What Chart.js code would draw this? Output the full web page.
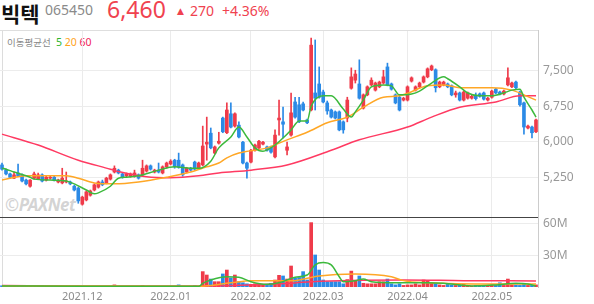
<!DOCTYPE html>
<html lang="ko">
<head>
<meta charset="UTF-8">
<script src="https://cdn.jsdelivr.net/npm/chart.js"></script>
<title>빅텍</title>
<style>
  body { margin:0; width:594px; height:304px; position:relative; overflow:hidden; background:#fff;
         font-family:'Noto Sans','Noto Sans CJK KR',sans-serif; }
  .h { position:absolute; white-space:nowrap; line-height:1; }
  #frame { position:absolute; left:2px; top:30px; width:536px; height:257px; box-sizing:border-box;
           border-left:1px solid #dcdcdc; }
  #mark { position:absolute; left:5px; top:193px; font:bold italic 17px 'Noto Sans',sans-serif;
          color:rgba(175,175,175,0.55); letter-spacing:-0.5px; }
  #ma { position:absolute; left:7px; top:35px; font-size:9.5px; color:#888; font-family:'Noto Sans CJK KR',sans-serif; }
  #ma b { font-weight:normal; font-family:'Noto Sans',sans-serif; font-size:10.5px; }
  canvas { position:absolute; left:0; top:0; }
</style>
</head>
<body>
<div id="frame"></div>
<div id="mark">©PAXNet</div>
<span class="h" style="left:1px;top:-2px;font:bold 21px 'Noto Sans CJK KR',sans-serif;color:#111">빅텍</span>
<span class="h" style="left:45px;top:3px;font-size:14px;color:#8a8a8a">065450</span>
<span class="h" style="left:107px;top:-2px;font-size:23px;color:#f0424f">6,460</span>
<span class="h" style="left:177px;top:6px;font:9px 'DejaVu Sans',sans-serif;color:#f0424f">▲</span>
<span class="h" style="left:190px;top:4px;font-size:14px;color:#f0424f">270</span>
<span class="h" style="left:222px;top:4px;font-size:14px;color:#f0424f">+4.36%</span>
<div id="ma">이동평균선 &nbsp;<b style="color:#2fb52f">5</b> <b style="color:#ffa31a">20</b> <b style="color:#f0245a">60</b></div>
<canvas id="chart" width="594" height="304"></canvas>
<script>
// trading days, Nov 2021 - May 2022
const months = ['2021.11', '2021.12', '2022.01', '2022.02', '2022.03', '2022.04', '2022.05'];
const tradingDays = [
  [3,4,5,8,9,10,11,12,15,16,17,18,19,22,23,24,25,26,29,30],
  [1,2,3,6,7,8,9,10,13,14,15,16,17,20,21,22,23,24,27,28,29,30],
  [3,4,5,6,7,10,11,12,13,14,17,18,19,20,21,24,25,26,27,28],
  [3,4,7,8,9,10,11,14,15,16,17,18,21,22,23,24,25,28],
  [2,3,4,7,8,10,11,14,15,16,17,18,21,22,23,24,25,28,29,30,31],
  [1,4,5,6,7,8,11,12,13,14,15,18,19,20,21,22,25,26,27,28,29],
  [2,3,4,6,9,10,11,12,13,16,17,18]
];

const open = [
  5510,5410,5320,5230,5340,5300,5190,5060,5230,5210,
  5300,5190,5230,5250,5150,5130,5150,5150,5060,5020,
  4680,4770,4870,4980,5040,5150,5130,5210,5360,5400,
  5320,5280,5270,5270,5300,5300,5380,5490,5360,5400,
  5340,5470,5530,5610,5610,5510,5360,5440,5570,5440,
  5510,5950,6180,5760,5970,6500,6190,6590,6330,6350,
  5990,5550,5570,5820,5870,5950,5890,5890,5680,6460,
  6420,5820,6140,6840,6780,6800,6460,6670,7030,7220,
  7050,6820,6670,6630,6630,6420,6500,7130,7300,7220,
  6710,6990,7200,7090,7160,7240,7580,7220,6990,6940,
  6880,6880,7280,7090,7160,7260,7370,7520,7520,7160,
  7200,7220,7180,6990,7030,6880,6920,6920,6960,7010,
  7030,6880,6940,7110,7050,7010,7200,7160,7260,7050,
  6820,6290,6310,6210
];
const high = [
  5550,5430,5340,5360,5530,5320,5210,5200,5360,5340,
  5320,5280,5280,5270,5210,5440,5360,5170,5080,5040,
  4850,4960,4980,5110,5170,5190,5250,5320,5490,5420,
  5340,5340,5340,5400,5320,5610,5510,5510,5420,5550,
  5490,5570,5620,5630,5760,5530,5460,5460,5590,5570,
  6330,6520,6290,5910,6200,6520,6820,6820,6610,6420,
  6010,5570,5840,5950,6030,6010,5910,5910,6250,6880,
  6730,5990,7030,6940,6940,6840,6480,8190,8150,7580,
  7090,6860,6690,6650,6650,6440,6940,7560,7510,7730,
  7010,7180,7350,7260,7280,7510,7660,7240,7010,6960,
  6940,7180,7370,7180,7260,7390,7560,7620,7540,7280,
  7280,7240,7200,7070,7050,7070,7050,6980,7030,7030,
  7050,6940,7090,7130,7070,7090,7560,7260,7280,7070,
  6840,6350,6330,6480
];
const low = [
  5400,5300,5230,5220,5260,5150,5090,5040,5210,5200,
  5150,5170,5210,5170,5130,5110,5130,5090,4960,4700,
  4660,4750,4850,4960,5020,5070,5110,5190,5340,5320,
  5230,5260,5250,5250,5210,5280,5360,5400,5340,5340,
  5320,5440,5510,5440,5440,5270,5340,5380,5400,5420,
  5490,5610,5850,5740,5950,6190,6170,6290,6310,6080,
  5530,5230,5550,5800,5850,5930,5800,5760,5660,6140,
  6080,5720,6120,6500,6400,6650,6380,6650,6670,6920,
  6820,6580,6500,6480,6230,6180,6420,7110,7240,6900,
  6690,6970,7180,7070,7140,7220,7180,7090,6800,6650,
  6860,6860,7260,7070,7140,7240,7350,7500,7050,7140,
  7180,7140,6970,6940,6860,6860,6900,6900,6880,6940,
  6880,6860,6920,7010,6990,6990,7180,7140,7110,6750,
  6160,6270,6080,6190
];
const close = [
  5420,5320,5250,5300,5280,5170,5110,5190,5320,5300,
  5170,5250,5250,5190,5190,5230,5170,5110,4980,4750,
  4830,4940,4960,5090,5150,5090,5230,5300,5440,5340,
  5250,5320,5320,5340,5230,5440,5490,5420,5400,5360,
  5470,5550,5590,5470,5460,5300,5440,5400,5420,5550,
  5910,5990,5870,5890,6010,6210,6670,6310,6590,6100,
  5550,5440,5820,5930,6010,5990,5820,5780,6140,6500,
  6370,5890,6610,6520,6420,6670,6400,8040,6920,6940,
  6840,6650,6520,6500,6250,6250,6880,7370,7430,6920,
  6990,7160,7300,7240,7260,7370,7200,7110,6820,6670,
  6920,7160,7350,7160,7240,7370,7540,7600,7140,7260,
  7260,7160,6990,7030,6880,7050,7030,6960,6910,6960,
  6900,6920,7070,7030,7010,7070,7350,7240,7140,6780,
  6310,6330,6190,6460
];
// volume, millions of shares
const volume = [
  1.2,1.0,0.9,1.1,1.3,1.0,0.9,1.0,1.1,0.9,
  1.0,0.8,0.8,0.9,0.8,1.1,0.9,0.8,1.0,1.2,
  0.6,0.5,0.5,0.4,0.5,0.4,0.5,0.5,2.0,0.5,
  0.4,0.4,0.5,0.6,0.4,1.6,0.6,0.5,0.4,0.4,
  0.5,0.5,0.4,0.6,2.0,0.6,0.5,0.4,1.5,0.6,
  14.5,11.3,7.5,5,5,12.3,16,8.5,11.3,5,
  4,3,2.5,3,2,2,2,3.5,6.6,11,
  10.4,7.5,19.8,8.5,9,14.5,6.6,60.7,30.2,16,
  6.6,5,5,5,5,3,7,15,5.7,10.4,
  3.5,3,3,3,5,5,7.5,3,2,3,
  1.5,2,2,3,2,6.6,5.7,3.5,3.5,2,
  1.5,2.5,2,1.5,2,2.5,1.5,1,1.5,1.5,
  1,1.5,2,1.5,4,1.5,7.5,2,2,1.5,
  3.5,1.5,1.5,2
];

// moving averages: [day index, value]
const ma5 = [[0,5440],[1,5420],[3,5360],[7,5250],[8,5210],[12,5190],[16,5170],[18,5110],[21,4980],[23,4900],
  [24,4920],[27,5060],[29,5230],[31,5250],[34,5280],[39,5400],[43,5470],[47,5440],[49,5440],[52,5590],
  [54,5870],[57,6100],[59,6310],[61,6100],[63,5870],[65,5800],[68,5930],[70,6080],[72,6250],[74,6440],
  [76,6440],[77,6750],[80,6970],[82,6970],[85,6690],[87,6520],[88,6630],[90,6880],[92,7160],[95,7200],
  [97,7180],[99,6990],[102,7010],[104,7070],[107,7240],[110,7370],[111,7330],[114,7160],[116,7030],[119,6970],
  [122,6970],[125,7030],[127,7090],[129,7110],[130,6940],[132,6670],[133,6520]];
const ma20 = [[0,5190],[6,5280],[16,5280],[19,5230],[23,5130],[28,5110],[34,5150],[41,5250],[47,5360],[51,5470],
  [54,5550],[56,5660],[59,5760],[66,5870],[71,6040],[76,6200],[81,6400],[86,6520],[90,6730],[95,6940],
  [99,6970],[106,7180],[110,7200],[114,7140],[122,7140],[127,7090],[130,6990],[133,6880]];
const ma60 = [[0,6160],[9,5930],[19,5610],[27,5420],[29,5370],[36,5260],[42,5240],[49,5280],[54,5340],[62,5400],
  [71,5510],[82,5820],[89,6040],[101,6310],[107,6520],[114,6730],[123,6840],[129,6970],[133,6970]];
const volMa5 = [[0,1.0],[20,0.8],[49,0.6],[50,3.5],[52,6.6],[56,9.7],[59,9.2],[62,5],[66,2.5],[69,4],
  [73,9.2],[76,11.3],[78,20.8],[80,23],[82,20.8],[84,9.7],[85,5],[88,6],[90,7.5],[92,5],
  [98,4],[106,4],[110,3.5],[117,1],[123,2],[128,3.5],[131,2.8],[133,1]];
const volMa20 = [[0,1.0],[49,0.8],[57,4],[62,6],[73,6],[74,6.6],[79,10.4],[88,12.3],[97,9.7],[100,6],
  [106,4],[123,2.8],[133,2.8]];
const volMa60 = [[0,1.4],[20,1.0],[49,0.9],[62,2],[73,3.8],[77,5],[100,6.6],[115,6],[133,5.7]];

const priceTicks = [5250, 6000, 6750, 7500];
const volTicks = [30, 60];
const priceMin = 4410, priceMax = 8360, volMax = 66;

const UP = '#ef3b4a', DOWN = '#2b8ae6';
const dates = [];
months.forEach((m, i) => tradingDays[i].forEach(d => dates.push(m + '.' + String(d).padStart(2, '0'))));

const candleColor = ctx => close[ctx.dataIndex] >= open[ctx.dataIndex] ? UP : DOWN;
// x given as the date label so the category scale places each point on its day
const pts = arr => arr.map(([i, v]) => ({ x: dates[i], y: v }));
const maLine = (data, color, axis) => ({
  type: 'line', data: pts(data), yAxisID: axis, borderColor: color, borderWidth: 1.5,
  pointRadius: 0, cubicInterpolationMode: 'monotone', order: 0
});

new Chart(document.getElementById('chart'), {
  data: {
    labels: dates,
    datasets: [
      maLine(ma5, '#3cb93c', 'y'),
      maLine(ma20, '#ffa726', 'y'),
      maLine(ma60, '#ff3a62', 'y'),
      maLine(volMa5, '#3cb93c', 'yv'),
      maLine(volMa20, '#ffa726', 'yv'),
      maLine(volMa60, '#ff3a62', 'yv'),
      { type: 'bar', data: dates.map((d, i) => [low[i], high[i]]), yAxisID: 'y',
        backgroundColor: candleColor, barThickness: 1, grouped: false, order: 3 },
      { type: 'bar', data: dates.map((d, i) => [open[i], close[i]]), yAxisID: 'y',
        backgroundColor: candleColor, barThickness: 3, minBarLength: 1, grouped: false, order: 2 },
      { type: 'bar', data: volume, yAxisID: 'yv',
        backgroundColor: candleColor, barThickness: 3, grouped: false, order: 2 }
    ]
  },
  options: {
    responsive: false,
    animation: false,
    layout: { padding: { top: 30, left: 0, right: 0, bottom: 0 } },
    plugins: { legend: { display: false }, tooltip: { enabled: false } },
    scales: {
      x: {
        offset: true,
        grid: { offset: false, color: '#ebebeb', drawTicks: false },
        border: { display: false },
        ticks: {
          autoSkip: false, maxRotation: 0, padding: 3, color: '#8c8c8c',
          font: { family: 'Noto Sans', size: 11 },
          callback: v => dates[v].slice(0, 7)
        },
        afterBuildTicks: s => {
          s.ticks = s.ticks.filter(t => t.value > 0 && dates[t.value].slice(0, 7) !== dates[t.value - 1].slice(0, 7));
        },
        afterFit: s => { s.height = 17; }
      },
      y: {
        position: 'right', stack: 'main', stackWeight: 187,
        min: priceMin, max: priceMax,
        grid: { drawTicks: false, color: c => c.tick && c.tick.value === priceMax ? '#dedede' : '#ececec' },
        border: { color: '#cccccc' },
        ticks: {
          autoSkip: false, padding: 5, color: '#999',
          font: { family: 'Noto Sans', size: 12 },
          callback: v => v === priceMax ? '' : v.toLocaleString('en-US')
        },
        afterBuildTicks: s => { s.ticks = priceTicks.concat([priceMax]).map(v => ({ value: v })); },
        afterFit: s => { s.width = 56; }
      },
      yv: {
        position: 'right', stack: 'main', stackWeight: 70,
        min: 0, max: volMax,
        grid: { drawTicks: false, color: c => c.tick && c.tick.value === volMax ? '#444' : '#ececec' },
        border: { color: '#cccccc' },
        ticks: {
          autoSkip: false, padding: 5, color: '#999',
          font: { family: 'Noto Sans', size: 12 },
          callback: v => v === volMax ? '' : v + 'M'
        },
        afterBuildTicks: s => { s.ticks = volTicks.concat([volMax]).map(v => ({ value: v })); },
        afterFit: s => { s.width = 56; }
      }
    }
  }
});
</script>
</body>
</html>
